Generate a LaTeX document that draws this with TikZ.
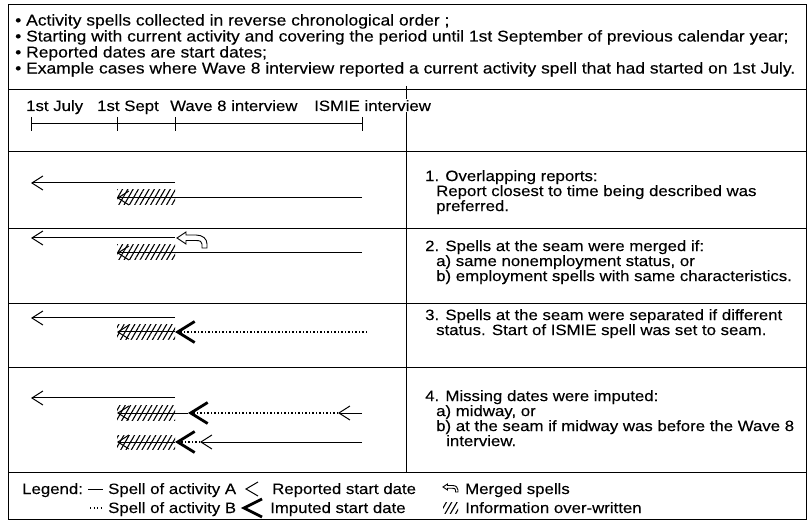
\documentclass[tikz,border=0pt]{standalone}
\usepackage{fontspec}
\setmainfont{Liberation Sans}[FakeStretch=1.12,FakeBold=0.2]
\usetikzlibrary{arrows.meta,patterns.meta}

\tikzset{
  rule/.style={line width=1pt},
  spellA/.style={line width=1pt},
  spellB/.style={line width=1.3pt, dash pattern=on 1.3pt off 2.2pt},
  reported/.style={-{Straight Barb[length=11pt,width=14pt,line width=1pt]}},
  imputed/.style={-{Straight Barb[length=17pt,width=21pt,line width=2.8pt]}},
  overwritten/.style={pattern={Lines[angle=60,distance=4.6pt,line width=1.1pt]}},
  txt/.style={anchor=base west, inner sep=0pt, font=\fontsize{15}{15}\selectfont},
  para/.style={anchor=north west, align=left, inner sep=0pt, font=\fontsize{15}{15}\selectfont},
  merged/.pic={
    \draw[line width=0.9pt, fill=white] (0,0) -- (9,-6) -- (9,-3) -- (19,-3)
      .. controls (26,-3) and (30,1) .. (30,6) -- (30,10) -- (25,10) -- (25,6)
      .. controls (25,3.5) and (23,2.5) .. (19,2.5) -- (9,2.5) -- (9,6) -- cycle;
  }
}
\newcommand\ind{\hspace*{11pt}}

\begin{document}
\begin{tikzpicture}[x=1pt,y=-1pt]
\useasboundingbox (0,0) rectangle (809,521);

% frame and table rules
\draw[rule] (8,5) rectangle (806,519);
\foreach \y in {90,152,229,304,368,472}
  \draw[rule] (8,\y) -- (806,\y);
\draw[rule] (406,86) -- (406,472);

% header
\node[para, font=\fontsize{15.6}{16}\selectfont] (head) at (15,14) {%
  • Activity spells collected in reverse chronological order ;\\
  • Starting with current activity and covering the period until 1st September of previous calendar year;\\
  • Reported dates are start dates;\\
  • Example cases where Wave 8 interview reported a current activity spell that had started on 1st July.};

% time axis
\coordinate (jul) at (31,124);
\coordinate (sep) at (117,124);
\coordinate (w8) at (175,124);
\coordinate (ism) at (362,124);
\draw[rule] (jul) -- (ism);
\foreach \t in {jul,sep,w8,ism}
  \draw[rule] ([yshift=7pt]\t) -- ([yshift=-7pt]\t);
\node[txt] (ljul) at (26,111) {1st July};
\node[txt] (lsep) at (97,111) {1st Sept};
\node[txt] (lw8) at (170,111) {Wave 8 interview};
\node[txt, fill=white, inner sep=1pt] (lism) at (313,111) {ISMIE interview};

% 1. overlapping reports
\fill[overwritten] (sep |- 0,190) rectangle (w8 |- 0,205);
\draw[spellA,reported] (w8 |- 0,183) -- (jul |- 0,183);
\draw[spellA,reported] (ism |- 0,198) -- (sep |- 0,198);
\node[para] (t1) at (425,170) {1. Overlapping reports:\\
  \ind Report closest to time being described was\\
  \ind preferred.};

% 2. merged
\fill[overwritten] (sep |- 0,245) rectangle (w8 |- 0,260);
\draw[spellA,reported] (w8 |- 0,238) -- (jul |- 0,238);
\pic at (177,238) {merged};
\draw[spellA,reported] (ism |- 0,253) -- (sep |- 0,253);
\node[para] (t2) at (425,240) {2. Spells at the seam were merged if:\\
  \ind a) same nonemployment status, or\\
  \ind b) employment spells with same characteristics.};

% 3. separated
\fill[overwritten] (sep |- 0,325) rectangle (w8 |- 0,340);
\draw[spellA,reported] (w8 |- 0,318) -- (jul |- 0,318);
\draw[spellA,reported] (w8 |- 0,332) -- (sep |- 0,332);
\draw[spellB,imputed] (367,332) -- (w8 |- 0,332);
\node[para] (t3) at (425,309) {3. Spells at the seam were separated if different\\
  \ind status. Start of ISMIE spell was set to seam.};

% 4. imputed
\coordinate (mida) at (188,413);
\coordinate (repa) at (338,413);
\coordinate (repb) at (200,442);
\fill[overwritten] (sep |- 0,406) rectangle (w8 |- 0,420);
\fill[overwritten] (sep |- 0,435) rectangle (w8 |- 0,449);
\draw[spellA,reported] (w8 |- 0,398) -- (jul |- 0,398);
\draw[spellA,reported] (mida) -- (sep |- mida);
\draw[spellB,imputed] (repa) -- (mida);
\draw[spellA,reported] (ism |- repa) -- (repa);
\draw[spellA,reported] (w8 |- repb) -- (sep |- repb);
\draw[spellB,imputed] (repb) -- (w8 |- repb);
\draw[spellA,reported] (ism |- repb) -- (repb);
\node[para] (t4) at (425,390) {4. Missing dates were imputed:\\
  \ind a) midway, or\\
  \ind b) at the seam if midway was before the Wave 8\\
  \ind\hspace*{10pt}interview.};

% legend
\node[txt] (lgd) at (22,494) {Legend:};
\draw[spellA] (88,489) -- (103,489);
\node[txt] (la) at (108,494) {Spell of activity A};
\draw[spellB] (90,508) -- (103,508);
\node[txt] (lb) at (108,513) {Spell of activity B};
\draw[line width=1pt] (258,482) -- (246,489) -- (258,496);
\node[txt] (lrep) at (272,494) {Reported start date};
\draw[line width=2.8pt] (262,499) -- (244,508) -- (262,517);
\node[txt] (limp) at (270,513) {Imputed start date};
\pic[scale=0.5] at (443,487) {merged};
\node[txt] (lmer) at (465,494) {Merged spells};
\fill[overwritten] (443,502) rectangle (458,513);
\node[txt] (lover) at (465,513) {Information over-written};
\end{tikzpicture}
\end{document}
